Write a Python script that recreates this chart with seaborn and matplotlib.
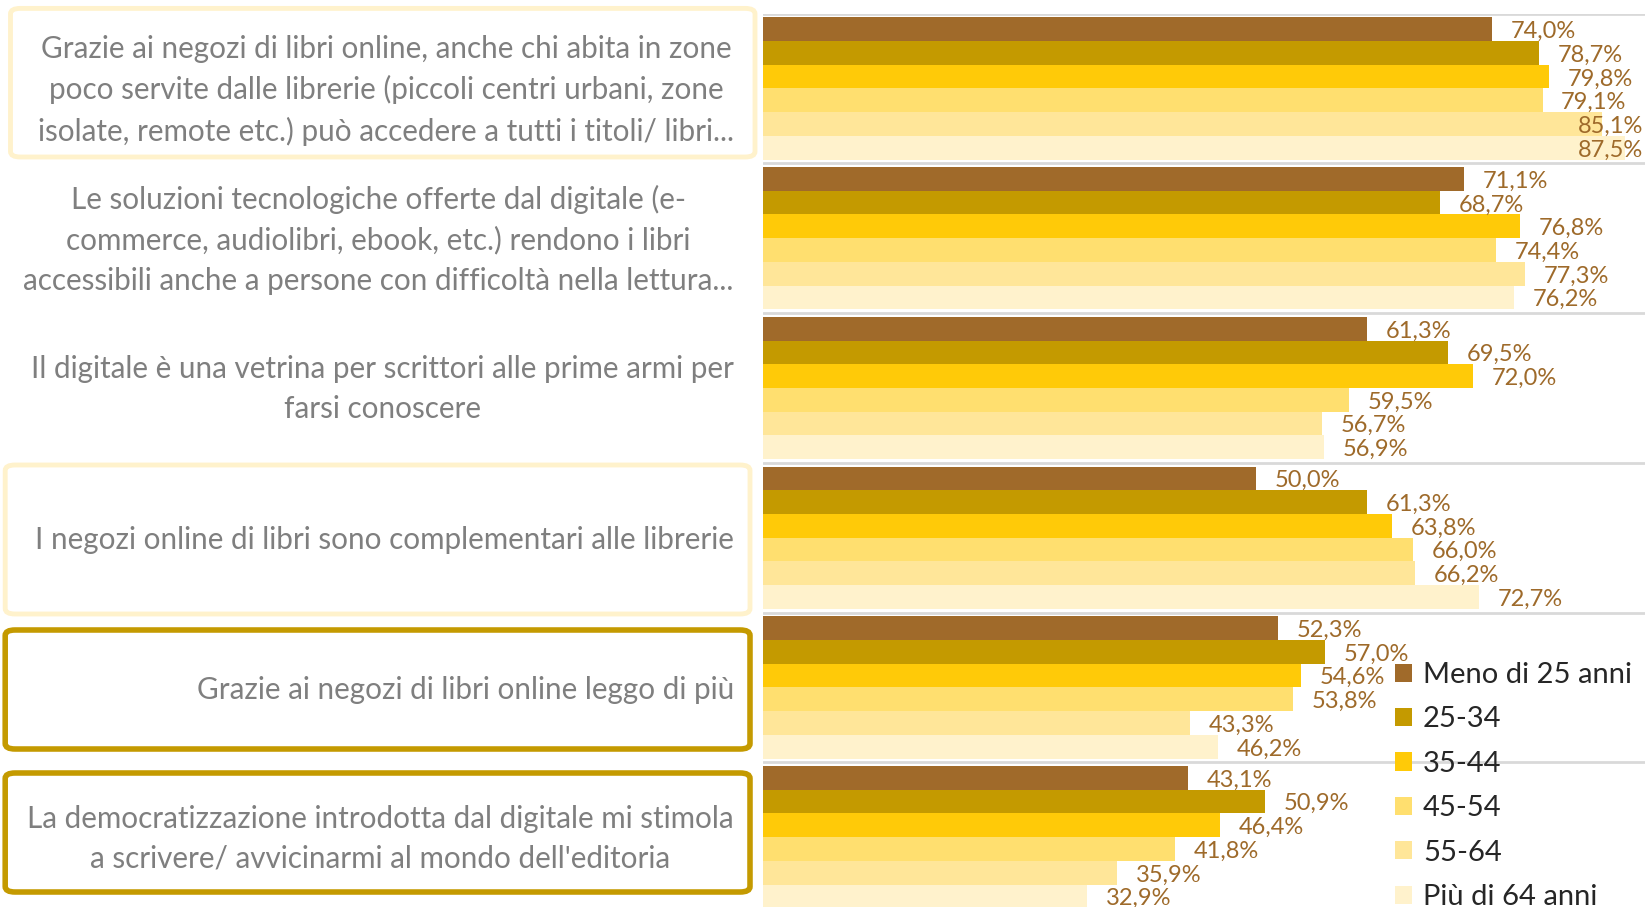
import matplotlib
matplotlib.use('Agg')
import matplotlib.pyplot as plt
import seaborn as sns
import numpy as np
import pandas as pd
from matplotlib.patches import FancyBboxPatch
from matplotlib.transforms import ScaledTranslation

statements = [
    "Grazie ai negozi di libri online, anche chi abita in zone\n"
    "poco servite dalle librerie (piccoli centri urbani, zone\n"
    "isolate, remote etc.) può accedere a tutti i titoli/ libri...",
    "Le soluzioni tecnologiche offerte dal digitale (e-\n"
    "commerce, audiolibri, ebook, etc.) rendono i libri\n"
    "accessibili anche a persone con difficoltà nella lettura...",
    "Il digitale è una vetrina per scrittori alle prime armi per\n"
    "farsi conoscere",
    "I negozi online di libri sono complementari alle librerie",
    "Grazie ai negozi di libri online leggo di più",
    "La democratizzazione introdotta dal digitale mi stimola\n"
    "a scrivere/ avvicinarmi al mondo dell'editoria",
]
age_groups = ['Meno di 25 anni', '25-34', '35-44', '45-54', '55-64', 'Più di 64 anni']
meno_25 = [74.0, 71.1, 61.3, 50.0, 52.3, 43.1]
eta_25_34 = [78.7, 68.7, 69.5, 61.3, 57.0, 50.9]
eta_35_44 = [79.8, 76.8, 72.0, 63.8, 54.6, 46.4]
eta_45_54 = [79.1, 74.4, 59.5, 66.0, 53.8, 41.8]
eta_55_64 = [85.1, 77.3, 56.7, 66.2, 43.3, 35.9]
piu_64 = [87.5, 76.2, 56.9, 72.7, 46.2, 32.9]
colors = ['#a06a2a', '#c49a00', '#ffca08', '#ffdf6f', '#ffe699', '#fff2cc']

series = [meno_25, eta_25_34, eta_35_44, eta_45_54, eta_55_64, piu_64]
rows = []
for age, vals in zip(age_groups, series):
    for st, v in zip(statements, vals):
        rows.append({'statement': st, 'age': age, 'value': v})
df = pd.DataFrame(rows)

sns.set_style('white')
plt.rcParams['font.family'] = ['Lato', 'DejaVu Sans']

W, H = 1645, 907
fig = plt.figure(figsize=(W / 100, H / 100), dpi=100)
ax = fig.add_axes([763 / W, 1 - 912 / H, 1 - 763 / W, (912 - 13.6) / H])

sns.barplot(data=df, y='statement', x='value', hue='age', orient='h',
            palette=colors, width=0.95, saturation=1, linewidth=0, ax=ax)

xmax = 89.5
ax.set_xlim(0, xmax)
ax.set_ylim(5.5, -0.5)
for y in np.arange(-0.5, 6, 1):
    ax.axhline(y, color='#d9d9d9', lw=2, zorder=0)
sns.despine(ax=ax, left=True, bottom=True)
ax.set_xticks([])
ax.set_xlabel('')
ax.set_ylabel('')
ax.tick_params(axis='y', length=0, pad=21, labelsize=21.3, labelcolor='#7f7f7f')
shift_up = ScaledTranslation(0, 7 / 100, fig.dpi_scale_trans)
for t in ax.get_yticklabels():
    t.set_multialignment('center')
    t.set_linespacing(1.52)
    if '\n' in t.get_text():
        t.set_transform(t.get_transform() + shift_up)

# value labels
for cont in ax.containers:
    for bar in cont:
        w = bar.get_width()
        yc = bar.get_y() + bar.get_height() / 2 + 0.015
        txt = f'{w:.1f}%'.replace('.', ',')
        if w + 1.9 + 6.9 > xmax:
            ax.text(xmax - 0.2, yc, txt, ha='right', va='center', fontsize=17, color='#9e6a2a')
        else:
            ax.text(w + 1.9, yc, txt, ha='left', va='center', fontsize=17, color='#9e6a2a')

handles, labels = ax.get_legend_handles_labels()
ax.get_legend().remove()
fig.legend(handles, labels, loc='upper left', bbox_to_anchor=(0.848, 0.27),
           frameon=False, fontsize=21, handlelength=0.58, handleheight=0.58,
           handletextpad=0.38, labelspacing=0.63, borderpad=0, borderaxespad=0)

# frames around some statements (pixel boxes)
boxes = [((10.5, 8.4, 755, 157), '#fff2cc', 3.5),
         ((5.2, 465, 750, 614), '#fff2cc', 3.5),
         ((5.2, 630, 750, 749), '#c49a00', 4),
         ((5.2, 773, 750, 892), '#c49a00', 4)]
for (x0, y0, x1, y1), ec, lw in boxes:
    p = FancyBboxPatch((x0 / W, 1 - y1 / H), (x1 - x0) / W, (y1 - y0) / H,
                       boxstyle='round,pad=0,rounding_size=0.006',
                       transform=fig.transFigure, fill=False, ec=ec, lw=lw)
    fig.add_artist(p)

plt.savefig('out.png', dpi=100)
plt.close()
